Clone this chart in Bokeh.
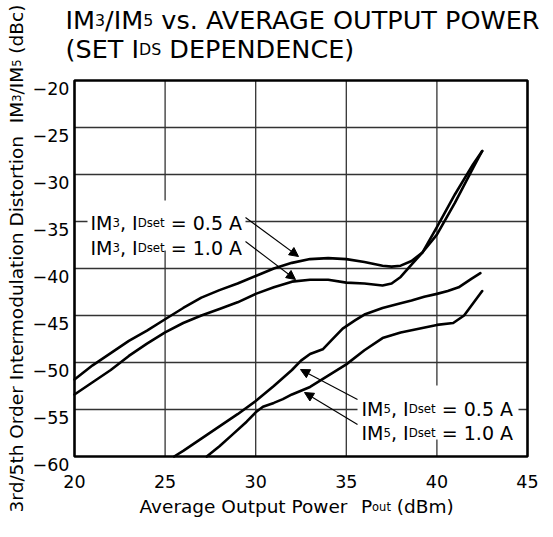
import math
import re
from bokeh.plotting import figure
from bokeh.models import Range1d, Arrow, NormalHead
from bokeh.core.properties import value
from bokeh.embed import file_html
from bokeh.resources import INLINE

# ---------------- data ----------------
im3_05_x = [20, 21, 22, 23, 24, 25, 26, 27, 28, 29, 30, 31, 32, 33, 34, 35, 36, 37, 37.5, 38, 38.6, 39.2, 40, 41, 42, 42.5]
im3_05_y = [-51.8, -50.3, -49.0, -47.7, -46.6, -45.4, -44.2, -43.1, -42.3, -41.6, -40.8, -40.0, -39.4, -39.0, -38.9,
            -39.0, -39.3, -39.7, -39.8, -39.7, -39.2, -38.3, -36.4, -33.0, -29.3, -27.5]

im3_10_x = [20, 21, 22, 23, 24, 25, 26, 27, 28, 29, 30, 31, 32, 33, 34, 35, 36, 37, 37.5, 38, 38.5, 39.2, 40, 41, 42, 42.5]
im3_10_y = [-53.4, -52.1, -50.8, -49.3, -48.0, -46.8, -45.8, -45.0, -44.3, -43.6, -42.7, -42.0, -41.4, -41.2, -41.2,
            -41.5, -41.6, -41.8, -41.6, -40.9, -39.8, -38.3, -35.6, -32.1, -28.9, -27.5]

im5_05_x = [25.5, 26, 27, 28, 29, 30, 31, 32, 32.5, 33, 33.7, 34.2, 34.8, 35.5, 36, 37, 38, 38.6, 39.3, 40, 40.6, 41.2, 41.9, 42.4]
im5_05_y = [-60.0, -59.4, -58.1, -56.8, -55.5, -54.1, -52.5, -50.8, -49.8, -49.1, -48.6, -47.6, -46.4, -45.5, -44.9,
            -44.2, -43.7, -43.4, -43.0, -42.7, -42.4, -42.0, -41.1, -40.5]

im5_10_x = [27.3, 28, 28.7, 29.5, 30, 30.4, 31, 31.5, 32, 33, 34, 35, 36, 37, 38, 39, 40, 40.9, 41.5, 42, 42.5]
im5_10_y = [-60.0, -58.9, -57.7, -56.3, -55.3, -54.7, -54.3, -53.9, -53.4, -52.6, -51.4, -50.2, -48.7, -47.4, -46.8,
            -46.4, -46.0, -45.8, -45.0, -43.7, -42.4]

x_ticks = [20, 25, 30, 35, 40, 45]
x_tick_labels = ["20", "25", "30", "35", "40", "45"]
y_ticks = [-60, -55, -50, -45, -40, -35, -30, -25, -20]
y_tick_labels = ["\u221260", "\u221255", "\u221250", "\u221245", "\u221240", "\u221235", "\u221230", "\u221225", "\u221220"]
x_min, x_max = 20, 45
y_min, y_max = -60, -20

# ---------------- layout (pixel geometry in window coordinates) ----------------
OFF = 8                      # page margin
W, H = 545, 521
FL, FR, FT, FB = 82, 535, 88, 464   # plot box edges in the window
FONT = "DejaVu Sans"
DXP = (x_max - x_min) / (FR - FL)   # data units per pixel
DYP = (y_max - y_min) / (FB - FT)

def X(px):
    return x_min + (px - FL) * DXP

def Y(py):
    return y_max - (py - FT) * DYP

DV = {' ': 318, '(': 390, ')': 390, ',': 318, '-': 361, '.': 318, '/': 337, '=': 838,
      'A': 684, 'B': 686, 'C': 698, 'D': 770, 'E': 632, 'G': 775, 'I': 295, 'M': 863, 'N': 748,
      'O': 787, 'P': 603, 'R': 695, 'S': 635, 'T': 611, 'U': 732, 'V': 684, 'W': 989,
      'a': 613, 'b': 635, 'c': 550, 'd': 635, 'e': 615, 'g': 635, 'h': 634, 'i': 278, 'l': 278,
      'm': 974, 'n': 634, 'o': 612, 'p': 635, 'r': 411, 's': 521, 't': 392, 'u': 634, 'v': 592,
      'w': 818}

def tw(txt, fs):
    return sum(DV.get(c, 636) for c in txt) * fs / 1000.0

p = figure(width=W, height=H, output_backend="svg", toolbar_location=None,
           x_range=Range1d(X(OFF), X(OFF + W)), y_range=Range1d(Y(OFF + H), Y(OFF)),
           x_axis_location=None, y_axis_location=None, min_border=0)
p.grid.visible = False
p.outline_line_color = None
p.background_fill_color = "white"
p.border_fill_color = "white"

# grid lines from the tick arrays
gx = [t for t in x_ticks if x_min < t < x_max]
gy = [t for t in y_ticks if y_min < t < y_max]
p.segment(x0=gx, y0=[y_min] * len(gx), x1=gx, y1=[y_max] * len(gx), line_color="#333333", line_width=1.3)
p.segment(x0=[x_min] * len(gy), y0=gy, x1=[x_max] * len(gy), y1=gy, line_color="#333333", line_width=1.3)

# white boxes behind the callout texts
p.quad(left=[X(95), X(365)], right=[X(253), X(526)], top=[Y(208), Y(393)], bottom=[Y(258), Y(447)],
       fill_color="white", line_color=None)

# curves
for xs, ys in ((im3_05_x, im3_05_y), (im3_10_x, im3_10_y), (im5_05_x, im5_05_y), (im5_10_x, im5_10_y)):
    p.line(xs, ys, line_color="black", line_width=2.6, line_join="round", line_cap="round")

# plot box
p.quad(left=[x_min], right=[x_max], bottom=[y_min], top=[y_max], fill_color=None,
       line_color="black", line_width=2.6)

# tick labels
p.text(x=x_ticks, y=[Y(489)] * len(x_ticks), text=x_tick_labels, text_font=value(FONT),
       text_font_size=value("17.5px"), text_align="center", text_baseline="alphabetic", text_color="black")
p.text(x=[X(77)] * len(y_ticks), y=[t - 8.4 * DYP for t in y_ticks], text=y_tick_labels, text_font=value(FONT),
       text_font_size=value("17.5px"), text_align="right", text_baseline="alphabetic", text_color="black")


def rich(px, py, pieces, size, vertical=False):
    """Draw a run of text pieces of different sizes on one baseline."""
    pos = 0.0

    def draw(txt, fs, at):
        if vertical:
            x, y = X(px), Y(py - at)
        else:
            x, y = X(px + at), Y(py)
        p.text(x=[x], y=[y], text=[txt], text_font=value(FONT), text_font_size=value("%.2fpx" % fs),
               text_align="left", text_baseline="alphabetic", text_color="black",
               angle=(math.pi / 2 if vertical else 0.0))

    for txt, sc in pieces:
        fs = size * sc
        for seg in re.split(r'( {2,})', txt):
            if not seg:
                continue
            if not seg.strip():
                pos += tw(seg, fs)
                continue
            lead = len(seg) - len(seg.lstrip(' '))
            trail = len(seg) - len(seg.rstrip(' '))
            core = seg.strip(' ')
            pos += tw(' ' * lead, fs)
            draw(core, fs, pos)
            pos += tw(core, fs) + tw(' ' * trail, fs)
    return pos


SUB = 0.62
# title
rich(73, 27.5, [("IM", 1), ("3", SUB), ("/IM", 1), ("5", SUB), (" vs. AVERAGE OUTPUT POWER", 1)], 25.5)
rich(73, 56.5, [("(SET I", 1), ("DS", SUB), (" DEPENDENCE)", 1)], 25.5)

# y axis title (rotated)
ylab = [("3rd/5th Order Intermodulation Distortion  IM", 1), ("3", SUB), ("/IM", 1), ("5", SUB), (" (dBc)", 1)]
ylen = sum(tw(t, 18.5 * s) for t, s in ylab)
rich(24, 266 + ylen / 2, ylab, 18.5, vertical=True)

# x axis title
rich(147, 514, [("Average Output Power  P", 1), ("out", SUB), (" (dBm)", 1)], 18.5)

# callouts
rich(98, 230, [("IM", 1), ("3", SUB), (", I", 1), ("Dset", SUB), (" = 0.5 A", 1)], 19)
rich(98, 255, [("IM", 1), ("3", SUB), (", I", 1), ("Dset", SUB), (" = 1.0 A", 1)], 19)
rich(369, 416, [("IM", 1), ("5", SUB), (", I", 1), ("Dset", SUB), (" = 0.5 A", 1)], 19)
rich(369, 440, [("IM", 1), ("5", SUB), (", I", 1), ("Dset", SUB), (" = 1.0 A", 1)], 19)

for (ax0, ay0, ax1, ay1) in ((253, 225, 306, 264), (253, 249, 303, 287), (365, 407, 308, 377), (365, 432, 312, 400)):
    p.add_layout(Arrow(x_start=X(ax0), y_start=Y(ay0), x_end=X(ax1), y_end=Y(ay1),
                       line_color="black", line_width=1.1,
                       end=NormalHead(size=9, fill_color="black", line_color="black", line_width=1)))

open("out.html", "w").write(file_html(p, INLINE))
